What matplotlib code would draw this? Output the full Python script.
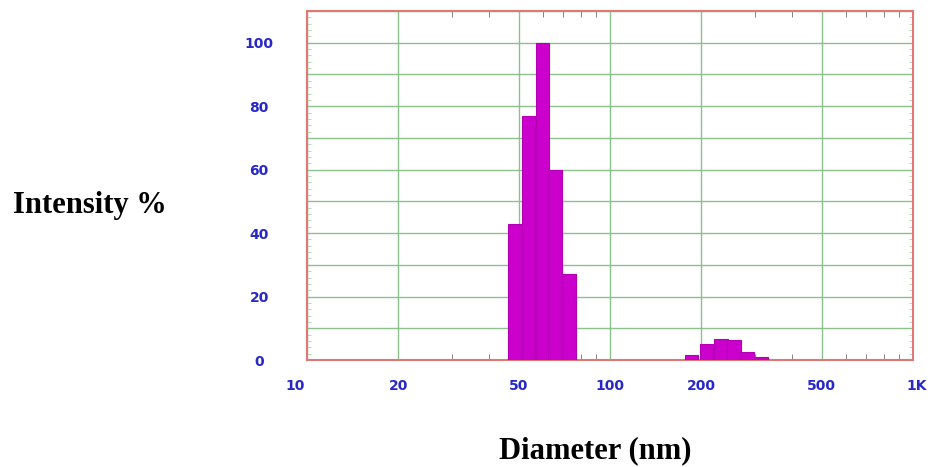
import matplotlib.pyplot as plt
from matplotlib.ticker import FixedLocator, NullFormatter
from matplotlib.transforms import ScaledTranslation

# size distribution by intensity (bins)
bin_left = [46.1, 51.2, 56.9, 62.5, 69.5, 176.8, 197.5, 221.0, 243.5, 269.0, 301.0]
intensity = [43, 77, 100, 60, 27, 1.5, 5, 6.5, 6.3, 2.6, 1.0]
bin_ratio = 1.108

x_ticks = [10, 20, 50, 100, 200, 500, 1000]
x_labels = ['10', '20', '50', '100', '200', '500', '1K']
y_grid = list(range(0, 111, 10))
y_labels = ['0', '', '20', '', '40', '', '60', '', '80', '', '100', '']

fig = plt.figure(figsize=(9.32, 4.67), dpi=100)
ax = fig.add_axes([0.3294, 0.2291, 0.6502, 0.7473])

widths = [b * (bin_ratio - 1) for b in bin_left]
ax.bar(bin_left, intensity, width=widths, align='edge', color='#CC00CC',
       edgecolor='#B400B4', linewidth=0.8, zorder=3)

ax.set_xscale('log')
ax.set_xlim(10, 1000)
ax.set_ylim(0, 110)

ax.xaxis.set_major_locator(FixedLocator(x_ticks))
ax.set_xticklabels(x_labels)
ax.xaxis.set_minor_locator(FixedLocator([30, 40, 60, 70, 80, 90, 300, 400, 600, 700, 800, 900]))
ax.xaxis.set_minor_formatter(NullFormatter())
ax.set_yticks(y_grid)
ax.set_yticklabels(y_labels)
ax.yaxis.set_minor_locator(FixedLocator(range(0, 111, 2)))

ax.grid(True, which='major', color='#8CC08C', linewidth=1.0, zorder=0)

for s in ax.spines.values():
    s.set_color('#E07878')
    s.set_linewidth(1.5)

ax.tick_params(axis='both', which='major', direction='in', length=0,
               labelcolor='#2828C8', labelsize=10)
ax.tick_params(axis='x', which='major', pad=14)
ax.tick_params(axis='y', which='major', pad=34.5)
ax.tick_params(axis='x', which='minor', direction='in', length=4, color='#707070',
               top=True, bottom=True)
ax.tick_params(axis='y', which='minor', direction='in', length=3, color='#A8D8A8',
               left=True, right=True)
for lab in ax.get_xticklabels() + ax.get_yticklabels():
    lab.set_fontweight('bold')
    lab.set_family('DejaVu Sans')
for lab in ax.get_yticklabels():
    lab.set_horizontalalignment('center')

# first and last x labels sit a little off their ticks
xl = ax.get_xticklabels()
xl[0].set_transform(xl[0].get_transform() + ScaledTranslation(-12 / 100, 0, fig.dpi_scale_trans))
xl[-1].set_transform(xl[-1].get_transform() + ScaledTranslation(4 / 100, 0, fig.dpi_scale_trans))

fig.text(0.014, 0.5439, 'Intensity %', fontsize=22, fontweight='bold',
         family='Liberation Serif', ha='left', va='baseline')
fig.text(0.6385, 0.018, 'Diameter (nm)', fontsize=22, fontweight='bold',
         family='Liberation Serif', ha='center', va='baseline')

plt.savefig('out.png', dpi=100)
